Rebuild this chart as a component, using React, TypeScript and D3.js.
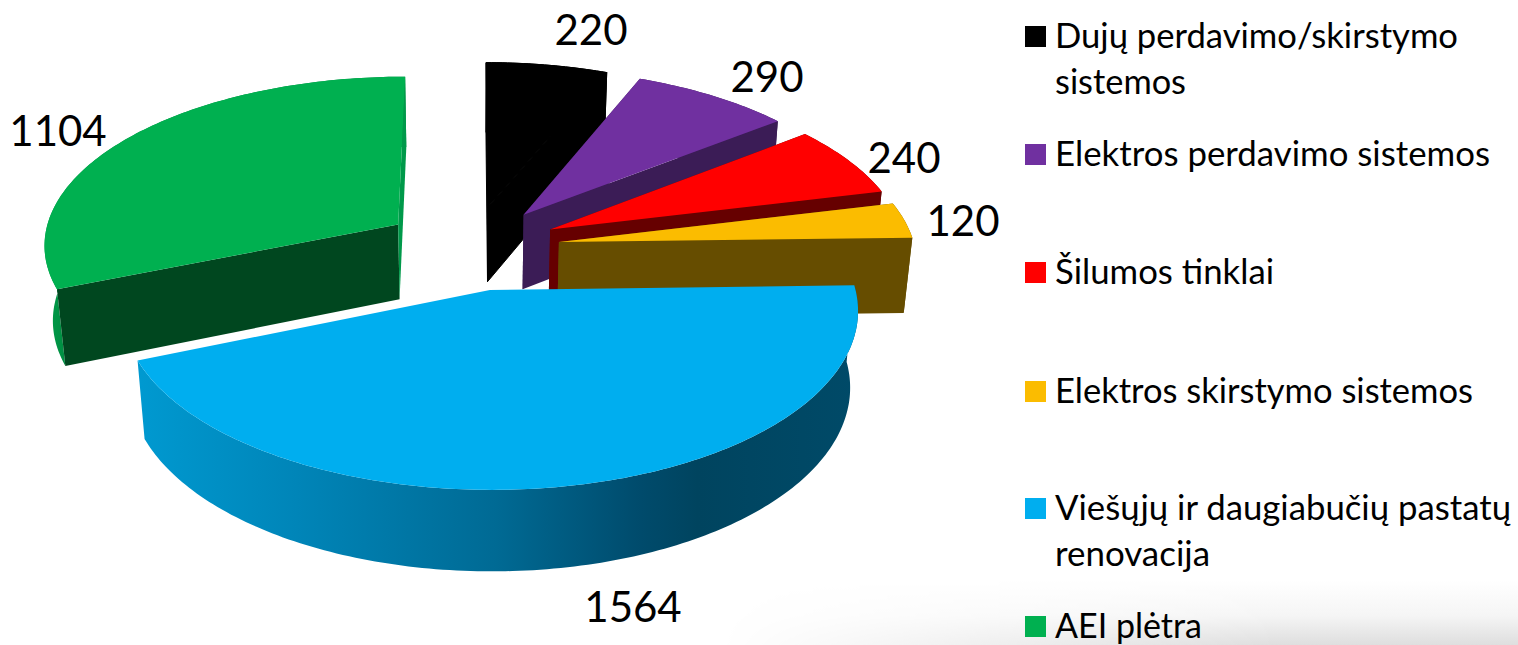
import { useEffect, useRef } from "react";
import * as d3 from "d3";

const categories = [
  "Dujų perdavimo/skirstymo sistemos",
  "Elektros perdavimo sistemos",
  "Šilumos tinklai",
  "Elektros skirstymo sistemos",
  "Viešųjų ir daugiabučių pastatų renovacija",
  "AEI plėtra",
];
const values = [220, 290, 240, 120, 1564, 1104];
const topColors = ["#000000", "#7030a0", "#ff0000", "#fbbc00", "#00aeef", "#00b050"];
const wallColors = ["#000000", "#3b1c56", "#660000", "#664d00", "#004a68", "#00471f"];

// legend rows, wrapped as in the picture
const legendLines = [
  ["Dujų perdavimo/skirstymo", "sistemos"],
  ["Elektros perdavimo sistemos"],
  ["Šilumos tinklai"],
  ["Elektros skirstymo sistemos"],
  ["Viešųjų ir daugiabučių pastatų", "renovacija"],
  ["AEI plėtra"],
];
const legendWidths = [[403, 131], [435], [219], [418], [456, 155], [147]];
const legendBaselines = [48, 166, 284, 403, 520, 638];
const labelPositions = [
  [591, 45],
  [767, 92],
  [904, 173],
  [963, 236],
  [633, 622],
  [58, 146],
];

const width = 1518;
const height = 645;

// perspective pie: unit circle on the floor, seen from the front and above
const cx = 471;
const cy = 247.6;
const rx = 356;
const ry = 168.5;
const explode = 0.25;
const persp = 0.108;
const thickness = 77;
const floorShrink = 0.02;

export default function App() {
  const svgRef = useRef<SVGSVGElement>(null);

  useEffect(() => {
    if (!svgRef.current) return;
    const svg = d3.select(svgRef.current);
    svg.selectAll("*").remove();

    const defs = svg.append("defs");

    // wall shading of the big slice
    const blueWall = defs
      .append("linearGradient")
      .attr("id", "blueWall")
      .attr("gradientUnits", "userSpaceOnUse")
      .attr("x1", 140)
      .attr("x2", 855)
      .attr("y1", 0)
      .attr("y2", 0);
    [
      [0, "#0099d0"],
      [0.22, "#0085b8"],
      [0.5, "#006a94"],
      [0.7, "#004b6c"],
      [0.78, "#00445f"],
      [1, "#004a68"],
    ].forEach(([o, c]) => blueWall.append("stop").attr("offset", o).attr("stop-color", c));

    const greenWall = defs
      .append("linearGradient")
      .attr("id", "greenWall")
      .attr("gradientUnits", "userSpaceOnUse")
      .attr("x1", 46)
      .attr("x2", 70)
      .attr("y1", 0)
      .attr("y2", 0);
    greenWall.append("stop").attr("offset", 0).attr("stop-color", "#009c48");
    greenWall.append("stop").attr("offset", 1).attr("stop-color", "#008a40");

    // faint grey streak of the slide background, bottom right
    const streakV = defs
      .append("linearGradient")
      .attr("id", "streakV")
      .attr("x1", 0)
      .attr("x2", 0)
      .attr("y1", 0)
      .attr("y2", 1);
    streakV.append("stop").attr("offset", 0).attr("stop-color", "#ffffff");
    streakV.append("stop").attr("offset", 0.55).attr("stop-color", "#f5f5f5");
    streakV.append("stop").attr("offset", 1).attr("stop-color", "#dedede");
    const streakH = defs
      .append("linearGradient")
      .attr("id", "streakH")
      .attr("x1", 0)
      .attr("x2", 1)
      .attr("y1", 0)
      .attr("y2", 0);
    streakH.append("stop").attr("offset", 0).attr("stop-color", "#000");
    streakH.append("stop").attr("offset", 0.7).attr("stop-color", "#fff");
    streakH.append("stop").attr("offset", 1).attr("stop-color", "#fff");
    defs
      .append("mask")
      .attr("id", "streakMask")
      .append("rect")
      .attr("x", 720)
      .attr("y", 575)
      .attr("width", width - 720)
      .attr("height", height - 575)
      .attr("fill", "url(#streakH)");

    svg
      .append("rect")
      .attr("width", width)
      .attr("height", height)
      .attr("fill", "#ffffff");
    svg
      .append("rect")
      .attr("x", 720)
      .attr("y", 580)
      .attr("width", width - 720)
      .attr("height", height - 580)
      .attr("fill", "url(#streakV)")
      .attr("mask", "url(#streakMask)");

    const arcs = d3
      .pie<number>()
      .sort(null)
      .value((d) => d)(values);

    type P = [number, number];
    const line = d3.line<P>();

    // project a point of a slice; r=0 is the slice's own tip
    const project = (mid: number, a: number, r: number, floor: boolean): P => {
      const X = explode * Math.sin(mid) + r * Math.sin(a);
      const Z = explode * Math.cos(mid) + r * Math.cos(a);
      const s = 1 / (1 + persp * Z + (floor ? floorShrink : 0));
      return [cx + rx * X * s, cy + (-ry * Z + (floor ? thickness : 0)) * s];
    };

    const rimAngles = (a0: number, a1: number) => {
      const n = Math.max(4, Math.ceil(((a1 - a0) * 180) / Math.PI));
      return d3.range(n + 1).map((i) => a0 + ((a1 - a0) * i) / n);
    };

    arcs
      .map((arc, i) => ({ arc, i }))
      // back to front: green first, blue last
      .sort((a, b) => (a.i === 5 ? -1 : b.i === 5 ? 1 : a.i - b.i))
      .forEach(({ arc, i }) => {
        const mid = (arc.startAngle + arc.endAngle) / 2;
        const angles = rimAngles(arc.startAngle, arc.endAngle);
        const top = angles.map((a) => project(mid, a, 1, false));
        const bottom = angles.map((a) => project(mid, a, 1, true));
        const tipTop = project(mid, 0, 0, false);
        const tipBottom = project(mid, 0, 0, true);
        const g = svg.append("g");
        // black slice: hide the seams between its faces
        const seam = i === 0 ? "#000000" : "none";

        const rimFill =
          i === 4 ? "url(#blueWall)" : i === 5 ? "url(#greenWall)" : wallColors[i];
        g.append("path")
          .attr("d", line([...top, ...bottom.slice().reverse()]) + "Z")
          .attr("fill", rimFill)
          .attr("stroke", seam);

        // the two cut faces; the big slice shows neither of them
        if (i !== 4) {
          const startFace = [tipTop, top[0], bottom[0], tipBottom] as P[];
          const endFace = [
            tipTop,
            top[top.length - 1],
            bottom[bottom.length - 1],
            tipBottom,
          ] as P[];
          g.append("path")
            .attr("d", line(startFace) + "Z")
            .attr("fill", wallColors[i])
            .attr("stroke", seam);
          g.append("path")
            .attr("d", line(endFace) + "Z")
            .attr("fill", i === 5 ? "#00994a" : wallColors[i])
            .attr("stroke", seam);
        }

        g.append("path")
          .attr("d", line([tipTop, ...top]) + "Z")
          .attr("fill", topColors[i])
          .attr("stroke", seam);
      });

    // value labels
    svg
      .append("g")
      .selectAll("text")
      .data(values)
      .join("text")
      .attr("x", (_, i) => labelPositions[i][0])
      .attr("y", (_, i) => labelPositions[i][1])
      .attr("text-anchor", "middle")
      .attr("font-family", "Lato, sans-serif")
      .attr("font-size", 42)
      .attr("fill", "#000000")
      .text((d) => d);

    // legend
    const legend = svg
      .append("g")
      .selectAll("g")
      .data(categories)
      .join("g")
      .attr("transform", (_, i) => `translate(1025,${legendBaselines[i]})`);
    legend
      .append("rect")
      .attr("y", -22)
      .attr("width", 21)
      .attr("height", 21)
      .attr("fill", (_, i) => topColors[i]);
    legend.each(function (_, i) {
      const row = d3.select(this);
      legendLines[i].forEach((t, j) => {
        row
          .append("text")
          .attr("x", 30)
          .attr("y", j * 45.5)
          .attr("font-family", "Lato, sans-serif")
          .attr("font-size", 34)
          .attr("fill", "#000000")
          .attr("textLength", legendWidths[i][j])
          .attr("lengthAdjust", "spacingAndGlyphs")
          .text(t);
      });
    });
  }, []);

  return (
    <svg
      ref={svgRef}
      width={width}
      height={height}
      viewBox={`0 0 ${width} ${height}`}
      style={{ position: "absolute", left: 0, top: 0, display: "block" }}
    />
  );
}
